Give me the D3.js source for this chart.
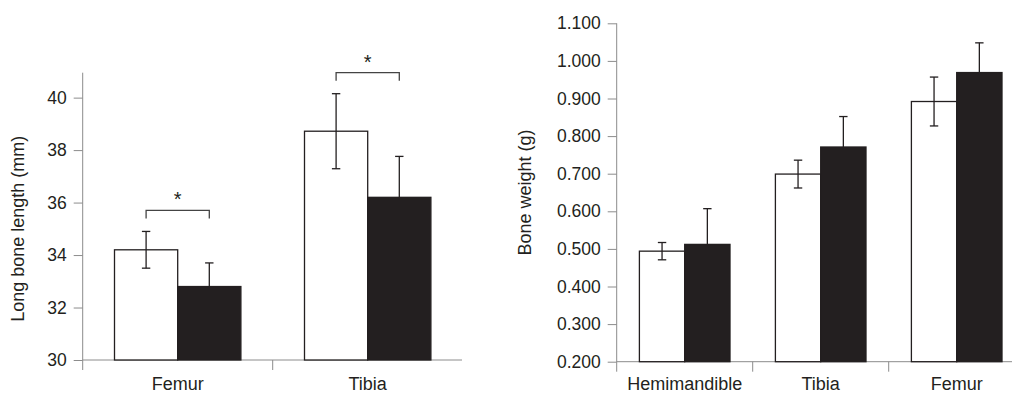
<!DOCTYPE html>
<html><head><meta charset="utf-8">
<script src="https://cdn.jsdelivr.net/npm/d3@7"></script>
<style>body{margin:0;background:#fff}svg{display:block}text{font-family:"Liberation Sans",Arial,sans-serif;fill:#231f20}</style>
</head><body><svg id="c" width="1012" height="394"></svg>
<script>
// Left panel: long bone length (mm)
const lenCats = ["Femur", "Tibia"];
const lenCtrl = [34.2, 38.72];
const lenCtrlErr = [0.7, 1.43];
const lenTreat = [32.8, 36.2];
const lenTreatErr = [0.9, 1.56];
const lenTicks = [30, 32, 34, 36, 38, 40];
// Right panel: bone weight (g)
const wCats = ["Hemimandible", "Tibia", "Femur"];
const wCtrl = [0.494, 0.699, 0.892];
const wCtrlErr = [0.023, 0.037, 0.065];
const wTreat = [0.512, 0.771, 0.969];
const wTreatErr = [0.095, 0.081, 0.079];
const wTicks = [0.2, 0.3, 0.4, 0.5, 0.6, 0.7, 0.8, 0.9, 1.0, 1.1];

const svg = d3.select("#c");
const axisCol = "#8c8c8c", ink = "#231f20";

function panel(cfg){
  const g = svg.append("g");
  const x = d3.scaleBand().domain(cfg.cats).range([cfg.x0, cfg.x0 + cfg.band*cfg.cats.length]);
  const y = d3.scaleLinear().domain(cfg.ydom).range(cfg.yr);
  // axes
  const yAx = d3.axisLeft(y).tickValues(cfg.ticks).tickSize(9).tickPadding(7).tickFormat(cfg.fmt);
  const ga = g.append("g").attr("transform",`translate(${cfg.x0},0)`).call(yAx);
  ga.select(".domain").remove();
  ga.selectAll("line").attr("stroke",axisCol);
  ga.selectAll("text").attr("font-size",cfg.fs).attr("fill",ink).style("font-family","Liberation Sans, Arial, sans-serif");
  g.append("line").attr("x1",cfg.x0).attr("x2",cfg.x0).attr("y1",cfg.axTop).attr("y2",y(cfg.ydom[0])+10).attr("stroke",axisCol);
  g.append("line").attr("x1",cfg.x0).attr("x2",cfg.xEnd).attr("y1",y(cfg.ydom[0])).attr("y2",y(cfg.ydom[0])).attr("stroke",axisCol);
  cfg.cats.slice(1).forEach(c=>{
    g.append("line").attr("x1",x(c)).attr("x2",x(c)).attr("y1",y(cfg.ydom[0])).attr("y2",y(cfg.ydom[0])+10).attr("stroke",axisCol);
  });
  g.selectAll(".xl").data(cfg.cats).join("text").attr("x",d=>x(d)+x.bandwidth()/2).attr("y",390)
    .attr("text-anchor","middle").attr("font-size",cfg.xfs).text(d=>d);
  // y label
  const yc = (y(cfg.ticks[0]) + y(cfg.ticks[cfg.ticks.length-1]))/2;
  g.append("text").attr("transform",`translate(${cfg.ylx},${yc}) rotate(-90)`).attr("text-anchor","middle")
    .attr("font-size",cfg.yfs).text(cfg.ylab);
  // bars
  const bw = cfg.barW;
  const cx = d=>x(d)+x.bandwidth()/2;
  const base = y(cfg.ydom[0]);
  const cap = 4.2;
  cfg.cats.forEach((c,i)=>{
    // control (white)
    const xc = cx(c)-bw, vC = cfg.ctrl[i], eC = cfg.ctrlErr[i];
    g.append("rect").attr("x",xc).attr("y",y(vC)).attr("width",bw).attr("height",base-y(vC))
      .attr("fill","#fff").attr("stroke",ink).attr("stroke-width",1.3);
    const ex = xc+bw/2;
    g.append("line").attr("x1",ex).attr("x2",ex).attr("y1",y(vC-eC)).attr("y2",y(vC+eC)).attr("stroke",ink).attr("stroke-width",1.3);
    [vC-eC,vC+eC].forEach(v=>g.append("line").attr("x1",ex-cap).attr("x2",ex+cap).attr("y1",y(v)).attr("y2",y(v)).attr("stroke",ink).attr("stroke-width",1.3));
    // treated (black)
    const xt = cx(c), vT = cfg.treat[i], eT = cfg.treatErr[i];
    g.append("rect").attr("x",xt).attr("y",y(vT)).attr("width",bw).attr("height",base-y(vT))
      .attr("fill",ink).attr("stroke",ink).attr("stroke-width",1.3);
    const tx = xt+bw/2;
    g.append("line").attr("x1",tx).attr("x2",tx).attr("y1",y(vT)).attr("y2",y(vT+eT)).attr("stroke",ink).attr("stroke-width",1.3);
    g.append("line").attr("x1",tx-cap).attr("x2",tx+cap).attr("y1",y(vT+eT)).attr("y2",y(vT+eT)).attr("stroke",ink).attr("stroke-width",1.3);
    // significance bracket
    if (cfg.sig) {
      const top = Math.max(vC+eC, vT+eT);
      const by = y(top) - cfg.sigGap;
      g.append("path").attr("d",`M${ex},${by+8}V${by}H${tx}V${by+8}`).attr("fill","none").attr("stroke","#444").attr("stroke-width",1.3);
      g.append("text").attr("x",(ex+tx)/2).attr("y",by-4).attr("text-anchor","middle").attr("font-size",20).text("*");
    }
  });
}

panel({cats:lenCats, ctrl:lenCtrl, ctrlErr:lenCtrlErr, treat:lenTreat, treatErr:lenTreatErr,
  ticks:lenTicks, ydom:[30,40.95], yr:[360,72.7], x0:82.7, band:190, xEnd:462, barW:63.2, axTop:72.7,
  fmt:d3.format("d"), fs:17.5, xfs:18, yfs:18, ylab:"Long bone length (mm)", ylx:24, sig:true, sigGap:21});
panel({cats:wCats, ctrl:wCtrl, ctrlErr:wCtrlErr, treat:wTreat, treatErr:wTreatErr,
  ticks:wTicks, ydom:[0.2,1.1], yr:[361.7,23.3], x0:616.7, band:136, xEnd:1012, barW:45.3, axTop:23.3,
  fmt:d3.format(".3f"), fs:17.5, xfs:18, yfs:18, ylab:"Bone weight (g)", ylx:531, sig:false});
</script></body></html>
